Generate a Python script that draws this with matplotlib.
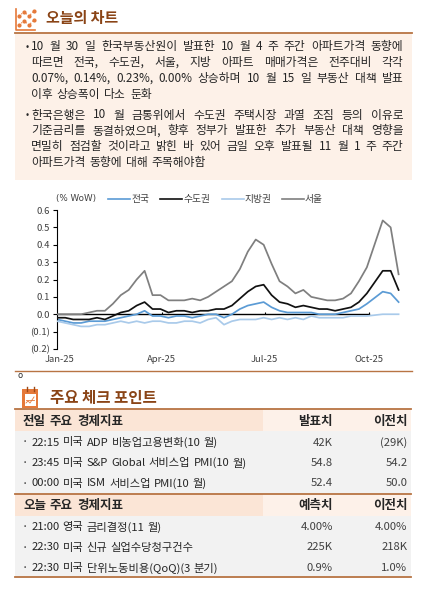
import matplotlib
matplotlib.use('Agg')
import matplotlib.pyplot as plt
import pandas as pd
from matplotlib.patches import Rectangle
from matplotlib.lines import Line2D

plt.rcParams['font.family'] = ['Noto Sans CJK KR', 'DejaVu Sans']

# ---- data ----
# weekly dates (Chuseok week 2025-10-06 not surveyed)
dates = pd.date_range('2024-12-30', '2025-10-27', freq='7D')
dates = dates[dates != pd.Timestamp('2025-10-06')]

series_names = ['전국', '수도권', '지방권', '서울']
nationwide = [-0.03, -0.04, -0.05, -0.05, -0.04, -0.04, -0.04, -0.03, -0.02, -0.01,
              0.00, 0.02, -0.01, -0.01, -0.02, -0.01, -0.01, -0.02, -0.01, 0.00,
              0.00, -0.02, 0.00, 0.03, 0.05, 0.06, 0.07, 0.04, 0.02, 0.01,
              0.01, 0.01, 0.01, 0.00, 0.00, 0.00, 0.01, 0.02, 0.03, 0.06,
              0.13, 0.12, 0.07]
capital = [-0.02, -0.02, -0.03, -0.03, -0.03, -0.02, -0.03, -0.01, 0.01, 0.02,
           0.05, 0.07, 0.03, 0.03, 0.01, 0.02, 0.02, 0.01, 0.02, 0.02,
           0.03, 0.03, 0.05, 0.09, 0.13, 0.16, 0.17, 0.11, 0.07, 0.06,
           0.04, 0.05, 0.04, 0.03, 0.03, 0.02, 0.03, 0.04, 0.07, 0.12,
           0.25, 0.25, 0.14]
regional = [-0.04, -0.05, -0.06, -0.07, -0.07, -0.06, -0.06, -0.05, -0.04, -0.05,
            -0.04, -0.05, -0.04, -0.04, -0.05, -0.05, -0.04, -0.04, -0.05, -0.03,
            -0.02, -0.06, -0.04, -0.03, -0.03, -0.03, -0.02, -0.03, -0.02, -0.03,
            -0.02, -0.03, -0.01, -0.02, -0.02, -0.02, -0.02, -0.01, -0.01, -0.01,
            0.00, 0.00, 0.00]
seoul = [0.00, 0.00, 0.00, 0.00, 0.01, 0.02, 0.02, 0.06, 0.11, 0.14,
         0.20, 0.25, 0.11, 0.11, 0.08, 0.08, 0.08, 0.09, 0.08, 0.10,
         0.13, 0.16, 0.19, 0.26, 0.36, 0.43, 0.40, 0.29, 0.19, 0.16,
         0.12, 0.14, 0.10, 0.09, 0.08, 0.08, 0.09, 0.12, 0.19, 0.27,
         0.54, 0.50, 0.23]

yticks = [-0.2, -0.1, 0.0, 0.1, 0.2, 0.3, 0.4, 0.5, 0.6]
ytick_labels = ['(0.2)', '(0.1)', '0.0', '0.1', '0.2', '0.3', '0.4', '0.5', '0.6']
xticks = pd.to_datetime(['2025-01-01', '2025-04-01', '2025-07-01', '2025-10-01'])
xtick_labels = ['Jan-25', 'Apr-25', 'Jul-25', 'Oct-25']

para1 = ['10 월 30 일 한국부동산원이 발표한 10 월 4 주 주간 아파트가격 동향에',
         '따르면 전국, 수도권, 서울, 지방 아파트 매매가격은 전주대비 각각',
         '0.07%, 0.14%, 0.23%, 0.00% 상승하며 10 월 15 일 부동산 대책 발표',
         '이후 상승폭이 다소 둔화']
para2 = ['한국은행은 10 월 금통위에서 수도권 주택시장 과열 조짐 등의 이유로',
         '기준금리를 동결하였으며, 향후 정부가 발표한 추가 부동산 대책 영향을',
         '면밀히 점검할 것이라고 밝힌 바 있어 금일 오후 발표될 11 월 1 주 주간',
         '아파트가격 동향에 대해 주목해야함']

prev_head = ['전일 주요 경제지표', '발표치', '이전치']
prev_items = ['· 22:15 미국 ADP 비농업고용변화(10 월)',
              '· 23:45 미국 S&P Global 서비스업 PMI(10 월)',
              '· 00:00 미국 ISM 서비스업 PMI(10 월)']
prev_actual = ['42K', '54.8', '52.4']
prev_prior = ['(29K)', '54.2', '50.0']
today_head = ['오늘 주요 경제지표', '예측치', '이전치']
today_items = ['· 21:00 영국 금리결정(11 월)',
               '· 22:30 미국 신규 실업수당청구건수',
               '· 22:30 미국 단위노동비용(QoQ)(3 분기)']
today_fcst = ['4.00%', '225K', '0.9%']
today_prior = ['4.00%', '218K', '1.0%']

# ---- styles ----
W, H = 422, 590
BROWN = '#B87443'
TITLE = '#8A4416'
ORANGE = '#E5793A'
BEIGE = '#FDF1E8'
PEACH = '#FBE5D6'
PEACH2 = '#FDF1E9'
GREY_ROW = '#F2F2F2'
TXT = '#262626'
colors = ['#5B9BD5', '#111111', '#A9CAEA', '#7F7F7F']

fig = plt.figure(figsize=(W / 100, H / 100), dpi=100)
renderer = fig.canvas.get_renderer()


def fx(x):
    return x / W


def fy(y):
    return 1 - y / H


def hline(x0, x1, y, color=BROWN, lw=1.3):
    fig.add_artist(Line2D([fx(x0), fx(x1)], [fy(y), fy(y)], color=color, lw=lw))


def rect(x0, y0, x1, y1, color):
    fig.add_artist(Rectangle((fx(x0), fy(y1)), (x1 - x0) / W, (y1 - y0) / H,
                             transform=fig.transFigure, facecolor=color,
                             edgecolor='none'))


def put_line(text, y, x0, x1, justify, space=1.0, **kw):
    # place word by word; justified lines spread to x1
    words = text.split(' ')
    arts = [fig.text(0, fy(y), w, ha='left', va='center', **kw) for w in words]
    widths = [a.get_window_extent(renderer).width for a in arts]
    if justify:
        gap = (x1 - x0 - sum(widths)) / (len(words) - 1)
    else:
        gap = space
    x = x0
    for a, w in zip(arts, widths):
        a.set_x(fx(x))
        x += w + gap


# ---- section 1 header ----
fig.text(fx(46), fy(18), '오늘의 차트', fontsize=10.8, fontweight='bold',
         color=TITLE, ha='left', va='center')
# chart icon
fig.add_artist(Line2D([fx(16), fx(16), fx(35)], [fy(9), fy(30), fy(30)],
                      color=ORANGE, lw=1.2))
fig.add_artist(Line2D([fx(x) for x in (19, 24, 29, 34)], [fy(y) for y in (16, 12, 16, 11)],
                      color=ORANGE, lw=0.8, ls=':', marker='o', ms=2))
fig.add_artist(Line2D([fx(x) for x in (19, 24, 29, 34)], [fy(y) for y in (25, 21, 25, 20)],
                      color=ORANGE, lw=0.8, ls=':', marker='o', ms=2))

rect(15, 33, 412, 180, BEIGE)
hline(15, 412, 33)

txt_kw = dict(fontsize=8.5, color=TXT)
line_y1 = [46.7, 62.5, 78.3, 94.3]
line_y2 = [115, 131, 146.7, 162.5]
for lines, ys in ((para1, line_y1), (para2, line_y2)):
    fig.text(fx(25.5), fy(ys[0]), '•', ha='left', va='center', fontsize=7, color=TXT)
    for k, (t, y) in enumerate(zip(lines, ys)):
        put_line(t, y, 31, 403.5, k < len(lines) - 1, space=4.0, **txt_kw)

# ---- chart ----
ax = fig.add_axes([fx(57.3), fy(349), (402 - 57.3) / W, (349 - 210) / H])
all_vals = [nationwide, capital, regional, seoul]
ax.plot([dates[0], xticks[-1]], [0, 0], color='#000000', lw=1.0, zorder=1)
ax.vlines(xticks[1:], 0, 0.012, color='#000000', lw=0.8, zorder=1)
for k in [2, 0, 1, 3]:
    ax.plot(dates, all_vals[k], color=colors[k], lw=1.25, zorder=2 + k)

ax.set_xlim(pd.Timestamp('2024-12-30'), pd.Timestamp('2025-10-30'))
ax.set_ylim(-0.2, 0.6)
ax.set_yticks(yticks)
ax.set_yticklabels(ytick_labels)
ax.set_xticks(xticks)
ax.set_xticklabels(xtick_labels)
for s in ('top', 'right', 'bottom'):
    ax.spines[s].set_visible(False)
ax.spines['left'].set_color('#000000')
ax.spines['left'].set_linewidth(0.8)
ax.tick_params(axis='y', direction='out', length=3, width=0.8, labelsize=6.8,
               labelcolor='#404040', pad=2)
ax.tick_params(axis='x', length=0, labelsize=6.8, labelcolor='#404040', pad=4)
ax.set_facecolor('none')

# legend
fig.text(fx(56), fy(199), '(% WoW)', fontsize=6.3, color='#404040',
         ha='left', va='center', family='DejaVu Sans')
leg_x = [108, 160, 222, 282]
for k, x in enumerate(leg_x):
    fig.add_artist(Line2D([fx(x), fx(x + 22)], [fy(199), fy(199)],
                          color=colors[k], lw=1.2))
    fig.text(fx(x + 23), fy(199), series_names[k], fontsize=7, color='#404040',
             ha='left', va='center')

# ---- section 2 ----
hline(15, 412, 370.5, lw=1.0)
fig.text(fx(18), fy(376), 'o', fontsize=6, color=TXT, ha='left', va='center',
         family='DejaVu Sans')
# calendar icon
rect(22, 389, 38, 408, ORANGE)
rect(24.5, 394, 35.5, 406, '#FFFFFF')
fig.add_artist(Line2D([fx(26), fx(34)], [fy(400), fy(400)], color=ORANGE, lw=0.6))
fig.add_artist(Line2D([fx(26), fx(28), fx(30), fx(34)], [fy(403), fy(401), fy(403), fy(397)],
                      color=ORANGE, lw=0.6))
for x in (26.5, 33.5):
    fig.add_artist(Line2D([fx(x), fx(x)], [fy(386.5), fy(391)], color='#9C4A17', lw=1.0))
fig.text(fx(50), fy(397.5), '주요 체크 포인트', fontsize=11.2, fontweight='bold',
         color=TITLE, ha='left', va='center')

# table
col1_x, col2_x = 333, 407.5
row_h = 20.5
blocks = [(409, prev_head, prev_items, prev_actual, prev_prior),
          (493.5, today_head, today_items, today_fcst, today_prior)]
for top, head, items, v1, v2 in blocks:
    rect(15, top, 263, top + 22, PEACH)
    rect(263, top, 411, top + 22, PEACH2)
    rect(15, top + 22, 411, top + 22 + 3 * row_h + 1, GREY_ROW)
    hline(15, 411, top, lw=1.3)
    put_line(head[0], top + 12, 23, 0, False, space=4.0, fontsize=9,
             fontweight='bold', color=TXT)
    fig.text(fx(col1_x), fy(top + 12), head[1], fontsize=9, fontweight='bold',
             color=TXT, ha='right', va='center')
    fig.text(fx(col2_x), fy(top + 12), head[2], fontsize=9, fontweight='bold',
             color=TXT, ha='right', va='center')
    for r in range(3):
        y = top + 33.5 + r * row_h
        put_line(items[r], y, 21.5, 0, False, space=3.3, fontsize=8.1, color=TXT)
        fig.text(fx(col1_x), fy(y), v1[r], fontsize=8.1, color='#404040',
                 ha='right', va='center')
        fig.text(fx(col2_x), fy(y), v2[r], fontsize=8.1, color='#404040',
                 ha='right', va='center')
hline(15, 411, 576.5, lw=1.3)

fig.savefig('out.png', dpi=100)
